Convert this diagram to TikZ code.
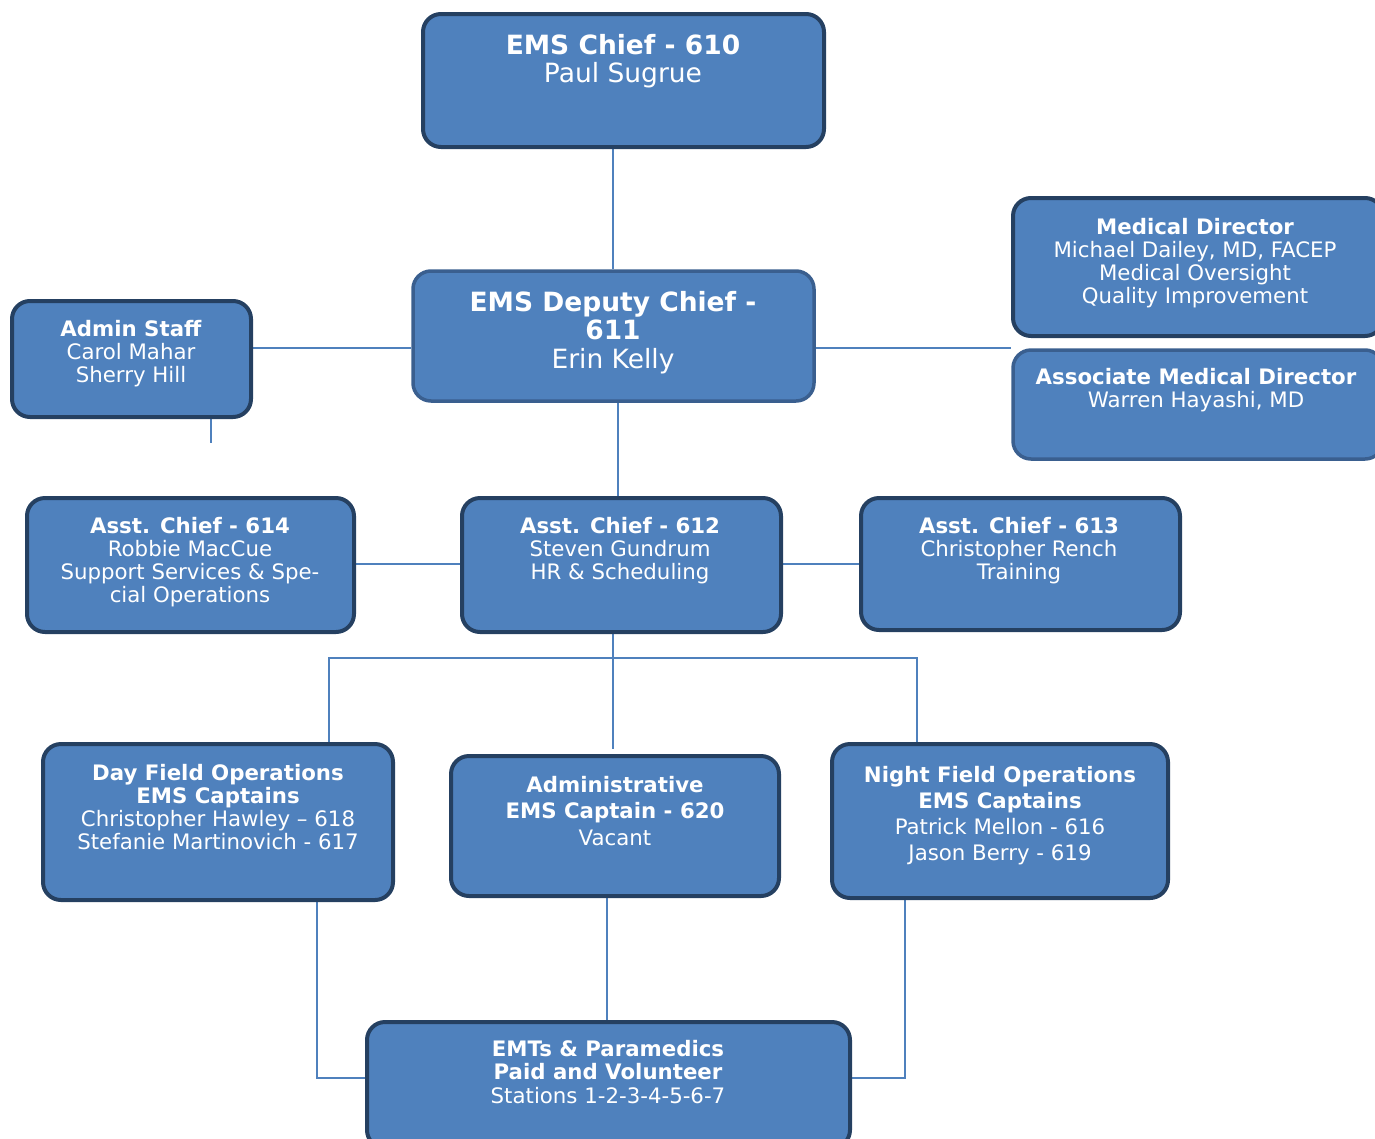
\documentclass[tikz,border=0pt]{standalone}
\usepackage{fontspec}
\setmainfont{DejaVu Sans}
\usetikzlibrary{backgrounds}
\definecolor{boxfill}{RGB}{79,129,189}
\definecolor{boxdark}{RGB}{37,64,97}
\definecolor{boxlight}{RGB}{58,95,143}
\definecolor{linkcol}{RGB}{79,129,189}
\tikzset{
  orgbox/.style={draw=boxdark, fill=boxfill, line width=4pt, rounded corners=18pt, inner sep=0pt},
  orgboxlt/.style={orgbox, draw=boxlight, line width=3.5pt},
  txt/.style={text=white, align=center, inner sep=0pt, anchor=base, font=\fontsize{21.3}{23}\selectfont},
  bigtxt/.style={txt, font=\fontsize{26.5}{28.5}\selectfont},
  link/.style={draw=linkcol, line width=1.5pt}
}
\begin{document}
\begin{tikzpicture}[x=1pt,y=-1pt]
\useasboundingbox (0,0) rectangle (1375,1138);
% helper coordinates
\coordinate (x613) at (613,0);
\coordinate (x618) at (618,0);
\coordinate (x211) at (211,0);
\coordinate (x329) at (329,0);
\coordinate (x917) at (917,0);
\coordinate (x317) at (317,0);
\coordinate (x905) at (905,0);
\coordinate (x607) at (607,0);
\coordinate (y348) at (0,348);
\coordinate (y564) at (0,564);
\coordinate (y1078) at (0,1078);
\coordinate (stub) at (211,443);
\coordinate (busL) at (329,658);
\coordinate (busR) at (917,658);
\coordinate (busM) at (613,658);

% boxes
\node[orgbox, minimum width=401pt, minimum height=133pt] (chief) at (623.5,80.5) {};
\node[orgboxlt, minimum width=401pt, minimum height=130pt] (deputy) at (613.5,336) {};
\node[orgbox, minimum width=239pt, minimum height=116pt] (admin) at (131.5,359) {};
\node[orgbox, minimum width=370pt, minimum height=138pt] (meddir) at (1198,267) {};
\node[orgboxlt, minimum width=370pt, minimum height=109pt] (assoc) at (1198,404.5) {};
\node[orgbox, minimum width=327pt, minimum height=134pt] (ac614) at (190.5,565) {};
\node[orgbox, minimum width=319pt, minimum height=134pt] (ac612) at (621.5,565) {};
\node[orgbox, minimum width=319pt, minimum height=132pt] (ac613) at (1020.5,564) {};
\node[orgbox, minimum width=350pt, minimum height=156pt] (day) at (218,822) {};
\node[orgbox, minimum width=328pt, minimum height=140pt] (admcap) at (615,826) {};
\node[orgbox, minimum width=336pt, minimum height=154pt] (night) at (1000,821) {};
\node[orgbox, minimum width=483pt, minimum height=126pt] (emts) at (608.5,1085) {};

% texts (anchor = baseline of last line)
\node[bigtxt] (chiefT) at (623,82.5) {\textbf{EMS Chief - 610}\\Paul Sugrue};
\node[bigtxt] (deputyT) at (613,368) {\textbf{EMS Deputy Chief -}\\\textbf{611}\\Erin Kelly};
\node[txt] (adminT) at (131,382) {\textbf{Admin Staff}\\Carol Mahar\\Sherry Hill};
\node[txt] (meddirT) at (1195,303) {\textbf{Medical Director}\\Michael Dailey, MD, FACEP\\Medical Oversight\\Quality Improvement};
\node[txt] (assocT) at (1196,407) {\textbf{Associate Medical Director}\\Warren Hayashi, MD};
\node[txt] (ac614T) at (190,602) {\textbf{Asst. Chief - 614}\\Robbie MacCue\\Support Services \& Spe-\\cial Operations};
\node[txt] (ac612T) at (620,579) {\textbf{Asst. Chief - 612}\\Steven Gundrum\\HR \& Scheduling};
\node[txt] (ac613T) at (1019,579) {\textbf{Asst. Chief - 613}\\Christopher Rench\\Training};
\node[txt] (dayT) at (218,849) {\textbf{Day Field Operations}\\\textbf{EMS Captains}\\Christopher Hawley – 618\\Stefanie Martinovich - 617};
\node[txt, font=\fontsize{21.3}{26.5}\selectfont] (admcapT) at (615,845) {\textbf{Administrative}\\\textbf{EMS Captain - 620}\\Vacant};
\node[txt, font=\fontsize{21.3}{26}\selectfont] (nightT) at (1000,860) {\textbf{Night Field Operations}\\\textbf{EMS Captains}\\Patrick Mellon - 616\\Jason Berry - 619};
\node[txt, font=\fontsize{21.3}{23.5}\selectfont] (emtsT) at (608,1103) {\textbf{EMTs \& Paramedics}\\\textbf{Paid and Volunteer}\\Stations 1-2-3-4-5-6-7};

% connectors
\begin{scope}[on background layer]
\draw[link] (chief.south -| x613) -- (deputy.north -| x613);
\draw[link] (admin.east |- y348) -- (deputy.west |- y348);
\draw[link] (deputy.east |- y348) -- (assoc.west |- y348);
\draw[link] (admin.south -| x211) -- (stub);
\draw[link] (deputy.south -| x618) -- (ac612.north -| x618);
\draw[link] (ac614.east |- y564) -- (ac612.west |- y564);
\draw[link] (ac612.east |- y564) -- (ac613.west |- y564);
\draw[link] (ac612.south -| x613) -- (busM);
\draw[link] (day.north -| x329) -- (busL) -- (busR) -- (night.north -| x917);
\draw[link, shorten >=5pt] (busM) -- (admcap.north -| x613);
\draw[link] (day.south -| x317) |- (emts.west |- y1078);
\draw[link] (night.south -| x905) |- (emts.east |- y1078);
\draw[link] (admcap.south -| x607) -- (emts.north -| x607);
\end{scope}
\end{tikzpicture}
\end{document}
